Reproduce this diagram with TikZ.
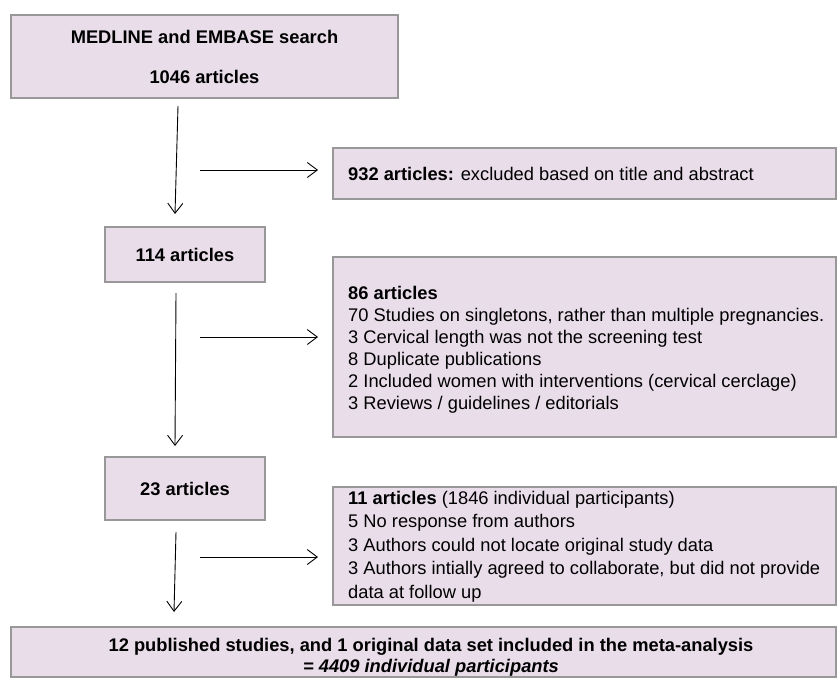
\documentclass[tikz,border=0pt]{standalone}
\usepackage{fontspec}
\setmainfont{Liberation Sans}
\usetikzlibrary{arrows.meta}
\definecolor{boxfill}{HTML}{E9DDEA}
\definecolor{boxline}{HTML}{989898}
\tikzset{
  box/.style={draw=boxline, line width=2.6pt, fill=boxfill, inner sep=0pt},
  flow/.style={line width=0.9pt, -{Straight Barb[length=10pt,width=15pt,line width=0.9pt]}},
  txt/.style={font=\fontsize{18.3}{21}\selectfont, inner sep=0pt},
}
\begin{document}
\begin{tikzpicture}[x=1pt,y=-1pt]
\useasboundingbox (0,0) rectangle (838,680);
% boxes
\node[box, minimum width=387pt, minimum height=83pt] (b1) at (204.5,56.5) {};
\node[txt, align=center, font=\fontsize{18.3}{21}\selectfont\bfseries] (t1) at (204.5,57) {MEDLINE and EMBASE search\\[19pt]1046 articles};
\node[box, minimum width=503pt, minimum height=51pt] (b2) at (584.5,173.5) {};
\node[txt, anchor=west] (t2) at (348,173.5) {\textbf{932 articles:} excluded based on title and abstract};
\node[box, minimum width=160pt, minimum height=55pt] (b3) at (185,254.5) {};
\node[txt, font=\fontsize{18.3}{21}\selectfont\bfseries] (t3) at (185,254.5) {114 articles};
\node[box, minimum width=503pt, minimum height=180pt] (b4) at (584.5,347) {};
\node[txt, anchor=north west, align=left, font=\fontsize{18.3}{22}\selectfont] (t4) at (348,286) {\textbf{86 articles}\\
70 Studies on singletons, rather than multiple pregnancies.\\
3 Cervical length was not the screening test\\
8 Duplicate publications\\
2 Included women with interventions (cervical cerclage)\\
3 Reviews / guidelines / editorials};
\node[box, minimum width=160pt, minimum height=63pt] (b5) at (185,488.5) {};
\node[txt, font=\fontsize{18.3}{21}\selectfont\bfseries] (t5) at (185,488.5) {23 articles};
\node[box, minimum width=503pt, minimum height=118pt] (b6) at (584.5,546) {};
\node[txt, anchor=north west, align=left, font=\fontsize{18.3}{23.5}\selectfont] (t6) at (348,491) {\textbf{11 articles} (1846 individual participants)\\
5 No response from authors\\
3 Authors could not locate original study data\\
3 Authors intially agreed to collaborate, but did not provide\\
data at follow up};
\node[box, minimum width=825pt, minimum height=50pt] (b7) at (423.5,652) {};
\node[txt, align=center, font=\fontsize{18.3}{21}\selectfont\bfseries] (t7) at (431,657) {12 published studies, and 1 original data set included in the meta-analysis\\\textit{= 4409 individual participants}};
% connector end points
\coordinate (v1a) at (178,106); \coordinate (v1b) at (175,214);
\coordinate (v2a) at (176,293); \coordinate (v2b) at (175,446);
\coordinate (v3a) at (176,532); \coordinate (v3b) at (174,612);
\coordinate (h1a) at (200,170); \coordinate (h1b) at (318,170);
\coordinate (h2a) at (200,337); \coordinate (h2b) at (318,337);
\coordinate (h3a) at (200,557); \coordinate (h3b) at (318,557);
\draw[flow] (v1a) -- (v1b);
\draw[flow] (v2a) -- (v2b);
\draw[flow] (v3a) -- (v3b);
\draw[flow] (h1a) -- (h1b);
\draw[flow] (h2a) -- (h2b);
\draw[flow] (h3a) -- (h3b);
\end{tikzpicture}
\end{document}
